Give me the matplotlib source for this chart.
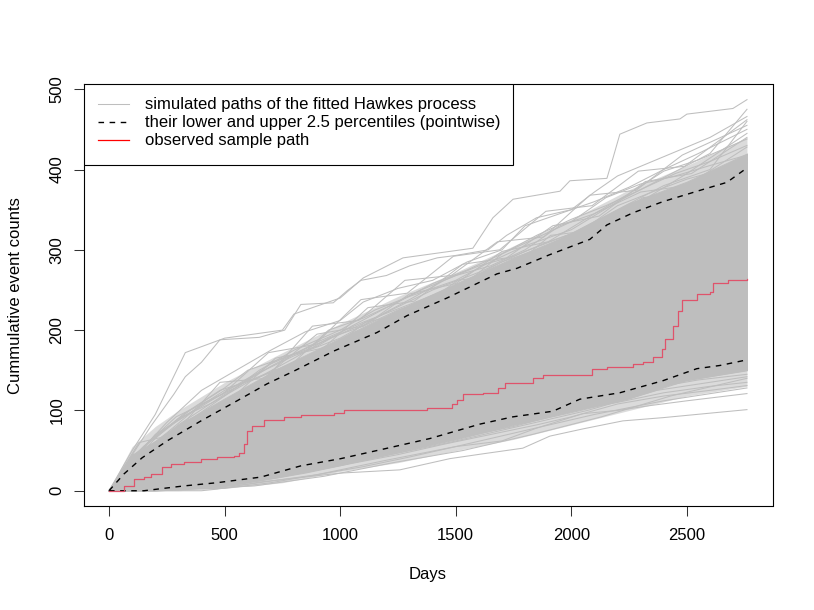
import matplotlib
matplotlib.use("Agg")
import matplotlib.pyplot as plt
from matplotlib.patches import Rectangle

red_days = [0, 65, 108, 151, 182, 229, 268, 324, 398, 467, 541, 562, 584, 597, 618, 670, 757,
            830, 973, 1016, 1375, 1483, 1505, 1531, 1618, 1683, 1713, 1834, 1877, 2089, 2154,
            2266, 2310, 2353, 2392, 2405, 2439, 2461, 2478, 2543, 2600, 2612, 2677, 2760]
red_counts = [0, 6, 15, 17, 21, 30, 33, 36, 40, 42, 43, 47, 58, 75, 81, 88, 92,
              94, 97, 100, 103, 108, 113, 120, 122, 128, 134, 140, 144, 151, 154,
              158, 160, 166, 176, 189, 205, 224, 238, 245, 247, 259, 262, 264]

# pointwise 2.5 / 97.5 percentiles of the simulated paths
hi_days = [0, 65, 143, 251, 398, 554, 683, 800, 973, 1159, 1289, 1462, 1678, 1765, 1907,
           2080, 2154, 2266, 2396, 2556, 2673, 2760]
hi_counts = [0, 21, 41, 62, 87, 112, 133, 149, 174, 197, 218, 240, 270, 277, 294,
             313, 331, 346, 360, 374, 384, 402]
lo_days = [0, 151, 324, 467, 657, 830, 1003, 1189, 1388, 1605, 1747, 1920, 2037, 2210,
           2396, 2543, 2643, 2760]
lo_counts = [0, 0, 6, 10, 17, 31, 40, 52, 65, 83, 92, 99, 114, 122, 137, 152, 156, 163]

# dense core of the simulated paths (solid grey) and the looser fringe around it
env_days = [0, 50, 100, 200, 300, 500, 750, 1000, 1250, 1500, 1750, 2000, 2250, 2500, 2760]
env_hi = [0, 20, 45, 62, 82, 115, 155, 190, 225, 258, 290, 320, 358, 385, 420]
env_lo = [0, 0, 0, 0, 2, 6, 18, 32, 48, 64, 82, 98, 115, 138, 150]
fringe_hi = [0, 28, 55, 80, 100, 135, 172, 208, 242, 272, 305, 338, 375, 405, 440]
fringe_lo = [0, 0, 0, 0, 0, 3, 10, 24, 35, 50, 64, 82, 100, 118, 130]

# single simulated paths that stand out above the band
up_paths = [
    ([0, 100, 200, 330, 500, 750, 800, 1000, 1100, 1272, 1574, 1661, 1748, 1951, 1994, 2154,
      2180, 2210, 2327, 2470, 2500, 2699, 2760],
     [0, 50, 95, 172, 190, 200, 220, 240, 265, 290, 302, 340, 363, 373, 386, 389,
      414, 444, 458, 463, 469, 476, 487]),
    ([0, 90, 180, 280, 330, 400, 480, 650, 760, 830, 970, 1030, 1090, 1200, 1300, 1420, 1500,
      1640, 1720, 1850, 2000, 2100, 2200, 2350, 2500, 2600, 2760],
     [0, 40, 80, 120, 142, 160, 188, 191, 200, 232, 234, 249, 262, 268, 280, 290, 293,
      300, 318, 340, 350, 372, 392, 410, 428, 440, 466]),
    ([0, 120, 250, 400, 550, 700, 850, 1000, 1100, 1250, 1400, 1550, 1700, 1800, 1950, 2100,
      2250, 2400, 2550, 2760],
     [0, 45, 85, 125, 150, 175, 198, 212, 235, 252, 262, 285, 300, 330, 345, 360,
      378, 400, 420, 450]),
    ([0, 100, 200, 350, 500, 600, 750, 900, 1050, 1200, 1350, 1500, 1650, 1800, 1950, 2100,
      2250, 2400, 2550, 2760],
     [0, 42, 68, 100, 128, 150, 165, 180, 205, 228, 250, 268, 280, 300, 330, 345,
      370, 398, 412, 438]),
    ([0, 150, 300, 450, 600, 800, 950, 1100, 1250, 1400, 1550, 1700, 1850, 2000, 2150, 2300,
      2450, 2600, 2760],
     [0, 55, 90, 110, 135, 160, 200, 215, 235, 258, 275, 295, 318, 338, 355, 375,
      395, 410, 430]),
    ([0, 80, 200, 320, 480, 640, 800, 950, 1100, 1250, 1400, 1550, 1700, 1850, 2000, 2150,
      2300, 2450, 2600, 2760],
     [0, 30, 65, 95, 125, 140, 165, 190, 205, 225, 240, 260, 295, 315, 335, 365,
      382, 392, 405, 418]),
    ([0, 100, 250, 400, 560, 700, 860, 1000, 1150, 1300, 1450, 1600, 1750, 1900, 2050, 2200,
      2350, 2500, 2650, 2760],
     [0, 38, 72, 108, 130, 158, 178, 195, 215, 238, 262, 280, 292, 310, 325, 355,
      372, 388, 400, 412]),
    ([0, 200, 400, 600, 800, 1000, 1200, 1400, 1600, 1800, 2000, 2200, 2400, 2600, 2760],
     [0, 70, 105, 140, 168, 190, 222, 250, 272, 298, 320, 350, 380, 400, 460]),
    ([0, 150, 300, 500, 650, 800, 1000, 1150, 1300, 1500, 1650, 1800, 2000, 2200, 2400, 2600,
      2760],
     [0, 50, 78, 118, 150, 175, 200, 225, 242, 262, 285, 305, 325, 360, 390, 420, 475]),
    ([0, 100, 300, 500, 700, 900, 1100, 1300, 1500, 1700, 1900, 2100, 2300, 2500, 2760],
     [0, 35, 82, 120, 155, 185, 210, 232, 255, 285, 305, 335, 360, 395, 445]),
    ([0, 150, 300, 500, 700, 900, 1100, 1300, 1500, 1700, 1900, 2100, 2300, 2500, 2760],
     [0, 55, 88, 125, 148, 195, 205, 245, 258, 298, 310, 345, 372, 380, 428]),
    ([0, 170, 320, 520, 720, 930, 1120, 1320, 1530, 1720, 1920, 2120, 2320, 2520, 2760],
     [0, 40, 85, 112, 165, 178, 228, 236, 282, 290, 330, 342, 385, 395, 440]),
    ([0, 130, 280, 480, 680, 880, 1080, 1280, 1480, 1680, 1880, 2080, 2280, 2480, 2760],
     [0, 60, 70, 135, 140, 205, 212, 262, 268, 310, 316, 368, 374, 418, 455]),
    ([0, 160, 310, 510, 710, 910, 1110, 1310, 1510, 1710, 1910, 2110, 2310, 2510, 2760],
     [0, 45, 80, 98, 150, 165, 210, 222, 262, 270, 318, 325, 365, 372, 408]),
    ([0, 140, 290, 490, 690, 890, 1090, 1290, 1490, 1690, 1890, 2090, 2290, 2490, 2760],
     [0, 52, 92, 120, 172, 182, 238, 246, 292, 300, 348, 355, 398, 404, 462]),
]

# and below it
low_paths = [
    ([0, 400, 467, 657, 1003, 1258, 1475, 1618, 1790, 1907, 2050, 2223, 2396, 2760],
     [0, 0, 2, 11, 22, 26, 40, 46, 53, 68, 77, 87, 91, 101]),
    ([0, 500, 700, 900, 1100, 1300, 1500, 1700, 1850, 2050, 2200, 2340, 2500, 2760],
     [0, 3, 10, 20, 30, 42, 55, 62, 78, 96, 100, 106, 112, 121]),
    ([0, 450, 650, 850, 1050, 1250, 1450, 1650, 1850, 2000, 2200, 2400, 2600, 2760],
     [0, 4, 12, 22, 34, 45, 58, 70, 82, 92, 108, 118, 125, 131]),
    ([0, 300, 600, 800, 1000, 1200, 1400, 1600, 1800, 2000, 2200, 2400, 2600, 2760],
     [0, 2, 10, 25, 36, 48, 60, 75, 85, 100, 110, 122, 130, 135]),
    ([0, 350, 550, 750, 950, 1150, 1350, 1550, 1750, 1950, 2150, 2350, 2550, 2760],
     [0, 3, 9, 18, 30, 45, 55, 68, 80, 95, 115, 128, 138, 145]),
    ([0, 400, 600, 800, 1000, 1200, 1400, 1600, 1800, 2000, 2200, 2400, 2600, 2760],
     [0, 5, 12, 22, 35, 50, 62, 78, 90, 102, 118, 132, 142, 150]),
    ([0, 300, 600, 900, 1200, 1500, 1800, 2100, 2400, 2760],
     [0, 1, 8, 20, 38, 55, 75, 95, 112, 128]),
    ([0, 330, 630, 930, 1230, 1530, 1830, 2130, 2430, 2760],
     [0, 2, 6, 18, 35, 50, 70, 92, 118, 140]),
    ([0, 270, 570, 870, 1170, 1470, 1770, 2070, 2370, 2760],
     [0, 3, 10, 24, 42, 60, 80, 100, 125, 142]),
]

x_ticks = [0, 500, 1000, 1500, 2000, 2500]
y_ticks = [0, 100, 200, 300, 400, 500]
legend_labels = ["simulated paths of the fitted Hawkes process",
                 "their lower and upper 2.5 percentiles (pointwise)",
                 "observed sample path"]

GREY = "#BEBEBE"
RED = "#DF536B"

plt.rcParams["font.family"] = ["Liberation Sans", "DejaVu Sans"]
plt.rcParams["font.size"] = 12

fig = plt.figure(figsize=(8.14, 6.10), dpi=100)
ax = fig.add_axes([83.5 / 814, (610 - 506.4) / 610, 689 / 814, 422.4 / 610])

ax.fill_between(env_days, env_hi, fringe_hi, color=GREY, alpha=0.55, lw=0)
ax.fill_between(env_days, fringe_lo, env_lo, color=GREY, alpha=0.55, lw=0)
ax.fill_between(env_days, env_lo, env_hi, color=GREY, lw=0.7)
for d, c in up_paths + low_paths:
    ax.plot(d, c, color=GREY, lw=0.75)
ax.plot(hi_days, hi_counts, color="black", lw=1.0, dashes=(4, 4))
ax.plot(lo_days, lo_counts, color="black", lw=1.0, dashes=(4, 4))
ax.plot(red_days, red_counts, color=RED, lw=0.9, drawstyle="steps-post")

ax.set_xlim(-110.4, 2870.4)
ax.set_ylim(-19.5, 506.5)
ax.set_xticks(x_ticks)
ax.set_yticks(y_ticks)
ax.tick_params(direction="out", length=7.2, width=0.75, color="#333333")
ax.tick_params(axis="x", pad=8)
ax.tick_params(axis="y", pad=6.5, labelrotation=90)
for lbl in ax.get_yticklabels():
    lbl.set_va("center")
for s in ax.spines.values():
    s.set_linewidth(0.8)

ax.set_xlabel("Days")
ax.set_ylabel("Cummulative event counts")
ax.xaxis.set_label_coords(0.5, -0.1435)
ax.yaxis.set_label_coords(-0.088, 0.5)

# legend box, drawn by hand like R's legend()
ax.add_patch(Rectangle((0, 0.808), 0.6234, 0.192, transform=ax.transAxes,
                       facecolor="white", edgecolor="black", lw=0.8, zorder=5))
rows = [0.9526, 0.9096, 0.8674]
styles = [dict(color=GREY, lw=0.75), dict(color="black", lw=1.0, dashes=(4, 4)),
          dict(color="#FF0000", lw=0.9)]
for y, lab, st in zip(rows, legend_labels, styles):
    ax.plot([0.021, 0.066], [y, y], transform=ax.transAxes, zorder=6, **st)
    ax.text(0.0893, y, lab, transform=ax.transAxes, va="center", ha="left", zorder=6)

fig.savefig("out.png", dpi=100)
